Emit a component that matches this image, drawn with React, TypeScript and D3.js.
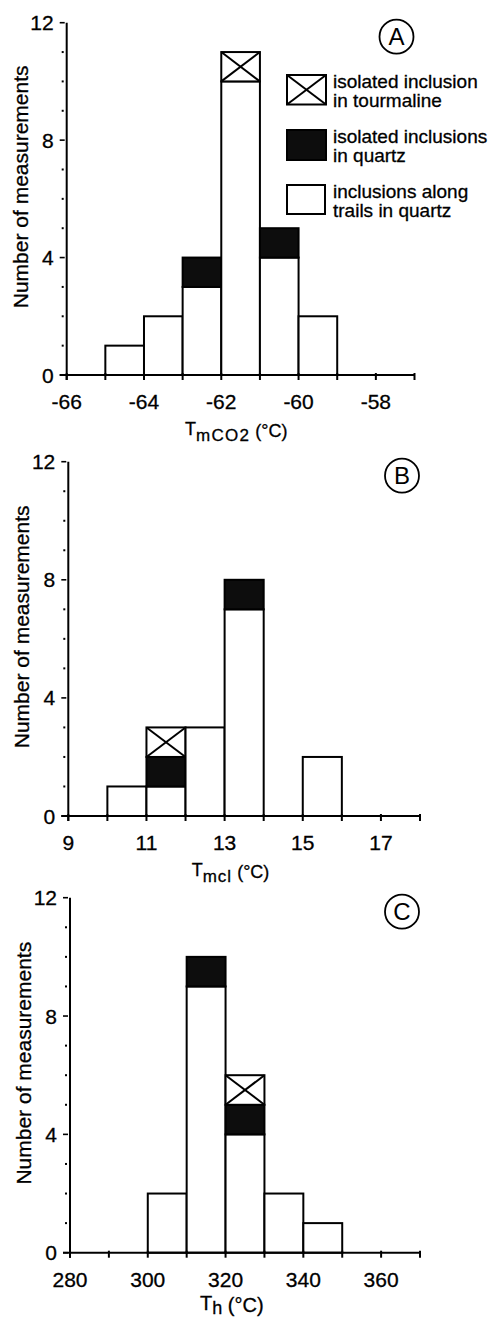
import React from 'react'
import * as d3 from 'd3'

const FONT = '"Liberation Sans", Arial, Helvetica, sans-serif'

// panel A : melting of CO2, bins 1 degree wide
const binsA = [-65, -64, -63, -62, -61, -60]
const trailsA = [1, 2, 3, 10, 4, 2]
const quartzA = [0, 0, 1, 0, 1, 0]
const tourmA = [0, 0, 0, 1, 0, 0]

// panel B : clathrate melting
const binsB = [10, 11, 12, 13, 14, 15]
const trailsB = [1, 1, 3, 7, 0, 2]
const quartzB = [0, 1, 0, 1, 0, 0]
const tourmB = [0, 1, 0, 0, 0, 0]

// panel C : homogenisation, bins 10 degrees wide
const binsC = [300, 310, 320, 330, 340]
const trailsC = [2, 9, 4, 2, 1]
const quartzC = [0, 1, 1, 0, 0]
const tourmC = [0, 0, 1, 0, 0]

const yMajor = [0, 4, 8, 12]
const legendItems = [
    { kind: 'tourm', lines: ['isolated inclusion', 'in tourmaline'] },
    { kind: 'quartz', lines: ['isolated inclusions', 'in quartz'] },
    { kind: 'trails', lines: ['inclusions along', 'trails in quartz'] },
]

const panels = [
    {
        letter: 'A', bins: binsA, binW: 1, trails: trailsA, quartz: quartzA, tourm: tourmA,
        xDomain: [-66, -57], tickStep: 1, labelStep: 2,
        left: 66.7, right: 414.5, top: 22.7, bottom: 375,
        title: { main: 'T', sub: 'mCO2', size: 18, subSize: 17, x: 185, spacing: 1.3, dy: 6, base: 60 },
        legend: true,
    },
    {
        letter: 'B', bins: binsB, binW: 1, trails: trailsB, quartz: quartzB, tourm: tourmB,
        xDomain: [9, 18], tickStep: 1, labelStep: 2,
        left: 68.3, right: 420, top: 461.7, bottom: 816,
        title: { main: 'T', sub: 'mcl', size: 18, subSize: 17, x: 191.7, spacing: 1, dy: 6, base: 60 },
        legend: false,
    },
    {
        letter: 'C', bins: binsC, binW: 10, trails: trailsC, quartz: quartzC, tourm: tourmC,
        xDomain: [280, 370], tickStep: 10, labelStep: 20,
        left: 70, right: 420, top: 897.7, bottom: 1252.7,
        title: { main: 'T', sub: 'h', size: 20, subSize: 18, x: 200, spacing: 0, dy: 4, base: 57 },
        legend: false,
    },
]

const CrossBox = ({ x, y, w, h }) => (
    <g>
        <rect x={x} y={y} width={w} height={h} fill="#fff" stroke="#000" strokeWidth={2} />
        <line x1={x} y1={y} x2={x + w} y2={y + h} stroke="#000" strokeWidth={2} />
        <line x1={x + w} y1={y} x2={x} y2={y + h} stroke="#000" strokeWidth={2} />
    </g>
)

const Panel = ({ p }) => {
    const xs = d3.scaleLinear().domain(p.xDomain).range([p.left, p.right])
    const ys = d3.scaleLinear().domain([0, 12]).range([p.bottom, p.top])

    const ticks = d3.range(p.xDomain[0], p.xDomain[1] + p.tickStep / 2, p.tickStep)
    const labels = d3.range(p.xDomain[0], p.xDomain[1], p.labelStep)
    const minor = d3.range(1, 12).filter(v => v % 4 !== 0)

    const t = p.title
    const cy = (p.top + p.bottom) / 2 - 12

    return (
        <g fontFamily={FONT} fill="#000" stroke="none">
            {/* bars */}
            {p.bins.map((b, i) => {
                const x = xs(b)
                const w = xs(b + p.binW) - xs(b)
                const a = p.trails[i]
                const q = p.quartz[i]
                const m = p.tourm[i]
                return (
                    <g key={i}>
                        {a > 0 && <rect x={x} y={ys(a)} width={w} height={ys(0) - ys(a)} fill="#fff" stroke="#000" strokeWidth={2} />}
                        {q > 0 && <rect x={x} y={ys(a + q)} width={w} height={ys(a) - ys(a + q)} fill="#0d0d0d" stroke="#000" strokeWidth={2} />}
                        {m > 0 && <CrossBox x={x} y={ys(a + q + m)} w={w} h={ys(a + q) - ys(a + q + m)} />}
                    </g>
                )
            })}

            {/* axes */}
            <line x1={p.left} y1={p.top} x2={p.left} y2={p.bottom + 5} stroke="#000" strokeWidth={2} />
            <line x1={p.left - 7} y1={p.bottom} x2={p.right} y2={p.bottom} stroke="#000" strokeWidth={2} />
            {ticks.map(v => (
                <line key={v} x1={xs(v)} x2={xs(v)} y1={p.bottom - 2} y2={p.bottom + 5} stroke="#000" strokeWidth={2} />
            ))}
            {labels.map(v => (
                <text key={v} x={xs(v)} y={p.bottom + 34} fontSize={21} textAnchor="middle" stroke="#000" strokeWidth={0.3}>{String(v)}</text>
            ))}
            {yMajor.map(v => (
                <g key={v}>
                    <line x1={p.left - 7} x2={p.left - 2} y1={ys(v)} y2={ys(v)} stroke="#000" strokeWidth={1.6} />
                    <text x={p.left - 13} y={ys(v) + 7.5} fontSize={21} textAnchor="end" stroke="#000" strokeWidth={0.3}>{v}</text>
                </g>
            ))}
            {minor.map(v => (
                <rect key={v} x={p.left - 5} y={ys(v) - 1} width={2} height={2} fill="#000" />
            ))}

            {/* titles */}
            <text transform={`translate(${p.left - 39},${cy}) rotate(-90)`} fontSize={21} textAnchor="middle" stroke="#000" strokeWidth={0.3}>
                Number of measurements
            </text>
            <text x={t.x} y={p.bottom + t.base} fontSize={t.size} stroke="#000" strokeWidth={0.3}>
                <tspan>{t.main}</tspan>
                <tspan fontSize={t.subSize} dy={t.dy} letterSpacing={t.spacing}>{t.sub}</tspan>
                <tspan dy={-t.dy + 2}>{' (°C)'}</tspan>
            </text>

            {/* panel letter */}
            <circle cx={p.right - 18} cy={p.top + 14} r={17} fill="none" stroke="#000" strokeWidth={1.8} />
            <text x={p.right - 18} y={p.top + 14 + 8.7} fontSize={24} textAnchor="middle">{p.letter}</text>

            {p.legend && legendItems.map((it, i) => {
                const bx = 287
                const by = 75 + i * 55
                return (
                    <g key={it.kind}>
                        {it.kind === 'tourm' && <CrossBox x={bx} y={by} w={39} h={29.5} />}
                        {it.kind === 'quartz' && <rect x={bx} y={by} width={39} height={30} fill="#0d0d0d" stroke="#000" strokeWidth={2} />}
                        {it.kind === 'trails' && <rect x={bx} y={by} width={38} height={29} fill="#fff" stroke="#000" strokeWidth={2} />}
                        {it.lines.map((l, j) => (
                            <text key={j} x={333} y={by + 12.5 + j * 19.5} fontSize={19} stroke="#000" strokeWidth={0.3}>{l}</text>
                        ))}
                    </g>
                )
            })}
        </g>
    )
}

export default function App() {
    return (
        <svg width={492} height={1318} style={{ position: 'absolute', left: 0, top: 0, background: '#fff' }}>
            <rect width={492} height={1318} fill="#fff" />
            {panels.map(p => <Panel key={p.letter} p={p} />)}
        </svg>
    )
}
